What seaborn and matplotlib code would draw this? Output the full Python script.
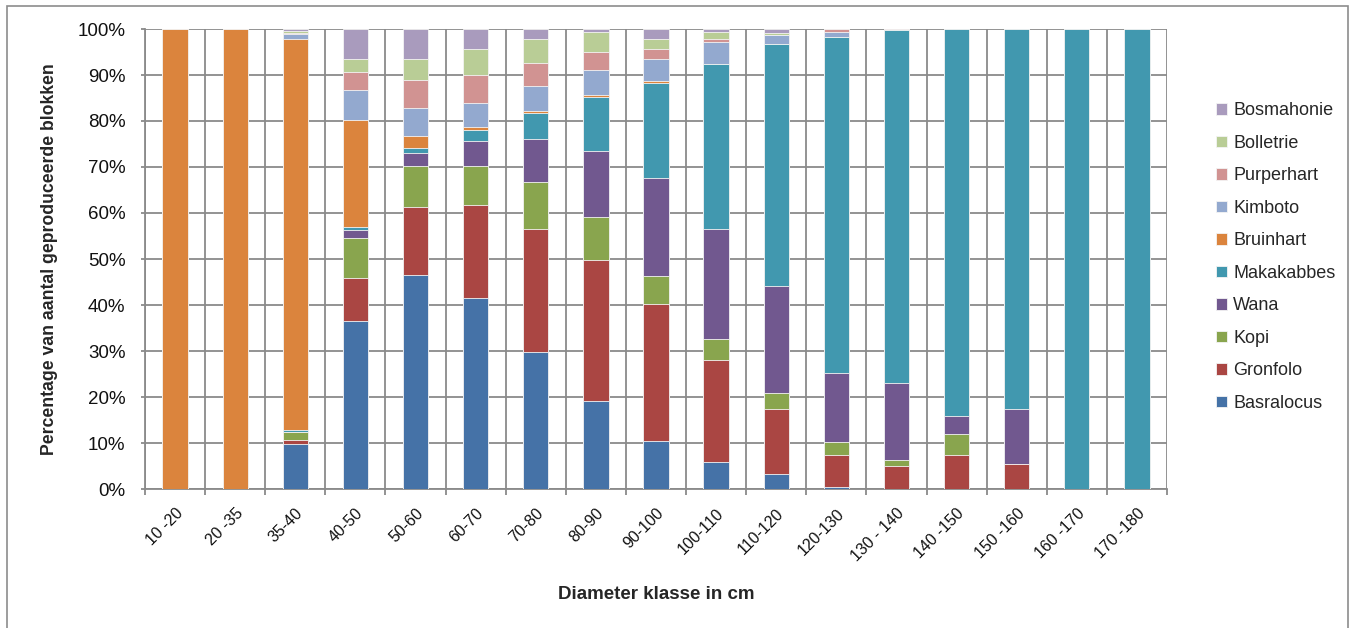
import numpy as np
import pandas as pd
import matplotlib.pyplot as plt
import matplotlib.ticker as mticker
from matplotlib.patches import Rectangle
import seaborn as sns

klassen = ['10 -20', '20 -35', '35-40', '40-50', '50-60', '60-70', '70-80', '80-90',
           '90-100', '100-110', '110-120', '120-130', '130 - 140', '140 -150',
           '150 -160', '160 -170', '170 -180']

# percentages per diameter class
basralocus = [0, 0, 9.8, 36.6, 46.6, 41.6, 29.8, 19.1, 10.4, 5.8, 3.3, 0.5, 0, 0, 0, 0, 0]
gronfolo   = [0, 0, 0.9, 9.3, 14.7, 20.1, 26.8, 30.7, 29.8, 22.2, 14.0, 7.0, 5.1, 7.5, 5.4, 0, 0]
kopi       = [0, 0, 1.6, 8.6, 9.0, 8.6, 10.1, 9.4, 6.1, 4.7, 3.6, 2.7, 1.1, 4.5, 0, 0, 0]
wana       = [0, 0, 0.2, 1.8, 2.8, 5.4, 9.3, 14.3, 21.2, 23.9, 23.2, 15.0, 16.8, 3.8, 11.9, 0, 0]
makakabbes = [0, 0, 0.3, 0.7, 1.1, 2.4, 5.7, 11.8, 20.7, 35.9, 52.7, 73.0, 76.7, 84.2, 82.7, 100, 100]
bruinhart  = [100, 100, 85.0, 23.3, 2.6, 0.7, 0.4, 0.3, 0.4, 0, 0, 0, 0, 0, 0, 0, 0]
kimboto    = [0, 0, 1.1, 6.5, 6.0, 5.1, 5.4, 5.4, 4.9, 4.7, 2.0, 1.1, 0, 0, 0, 0, 0]
purperhart = [0, 0, 0.3, 3.9, 6.1, 6.1, 5.0, 3.9, 2.2, 0.7, 0, 0.7, 0.3, 0, 0, 0, 0]
bolletrie  = [0, 0, 0.4, 2.8, 4.6, 5.7, 5.4, 4.4, 2.2, 1.4, 0.4, 0, 0, 0, 0, 0, 0]
bosmahonie = [0, 0, 0.4, 6.5, 6.5, 4.3, 2.1, 0.7, 2.1, 0.7, 0.8, 0, 0, 0, 0, 0, 0]

soorten = ['Basralocus', 'Gronfolo', 'Kopi', 'Wana', 'Makakabbes', 'Bruinhart',
           'Kimboto', 'Purperhart', 'Bolletrie', 'Bosmahonie']
waarden = [basralocus, gronfolo, kopi, wana, makakabbes, bruinhart,
           kimboto, purperhart, bolletrie, bosmahonie]
kleuren = ['#4572A7', '#AA4643', '#89A54E', '#71588F', '#4198AF', '#DB843D',
           '#93A9CF', '#D19392', '#B9CD96', '#A99BBD']

sns.set_style('white')
plt.rcParams['font.family'] = ['Liberation Sans', 'DejaVu Sans']

fig = plt.figure(figsize=(13.58, 6.28), dpi=100)
ax = fig.add_axes([145/1358, 1-489/628, (1167-145)/1358, (489-29)/628])

df = pd.DataFrame(dict(zip(soorten, waarden)), index=klassen)
cum = df.cumsum(axis=1)
cum = cum.div(cum['Bosmahonie'], axis=0) * 100

# draw from the top layer down, so each lower layer covers the one above
for soort, kleur in zip(soorten[::-1], kleuren[::-1]):
    sns.barplot(x=klassen, y=cum[soort].values, color=kleur, width=0.42,
                edgecolor='#f4f4f4', linewidth=0.6, saturation=1,
                label=soort, ax=ax, zorder=3)

ax.set_xlim(-0.5, 16.5)
ax.set_ylim(0, 100)
ax.yaxis.set_major_locator(mticker.MultipleLocator(10))
ax.yaxis.set_major_formatter(mticker.FuncFormatter(lambda v, p: f'{v:.0f}%'))
ax.xaxis.set_minor_locator(mticker.FixedLocator(np.arange(-0.5, 17, 1)))
ax.grid(True, axis='y', which='major', color='#8a8a8a', lw=1.3, zorder=0)
ax.grid(True, axis='x', which='minor', color='#8a8a8a', lw=1.3, zorder=0)
ax.set_axisbelow(True)
for s in ['left', 'bottom']:
    ax.spines[s].set_color('#8a8a8a')
    ax.spines[s].set_linewidth(1.3)
for s in ['top', 'right']:
    ax.spines[s].set_visible(False)

ax.tick_params(axis='y', which='major', left=True, length=3, width=1.3,
               color='#8a8a8a', labelsize=13.5, pad=11, labelcolor='#111111')
ax.tick_params(axis='x', which='major', bottom=False, length=0, labelsize=11.5,
               pad=12, labelcolor='#111111')
ax.tick_params(axis='x', which='minor', bottom=True, length=4, width=1.3,
               color='#8a8a8a')
plt.setp(ax.get_xticklabels(), rotation=45, ha='right', va='top',
         rotation_mode='anchor')

ax.set_xlabel('Diameter klasse in cm', fontsize=13.5, fontweight='bold', labelpad=16)
ax.set_ylabel('Percentage van aantal geproduceerde blokken', fontsize=12.7,
              fontweight='bold', labelpad=14)

leg = ax.legend(loc='upper left', bbox_to_anchor=(1209/1358, 1-95/628),
                bbox_transform=fig.transFigure, frameon=False, fontsize=13,
                handlelength=0.6, handleheight=0.6, handletextpad=0.35,
                labelspacing=0.86, borderaxespad=0)

fig.patches.append(Rectangle((7/1358, -0.02), (1348-7)/1358, 1.02-6/628,
                             transform=fig.transFigure, fill=False,
                             edgecolor='#8c8c8c', lw=1.2))

fig.savefig('out.png', dpi=100)
